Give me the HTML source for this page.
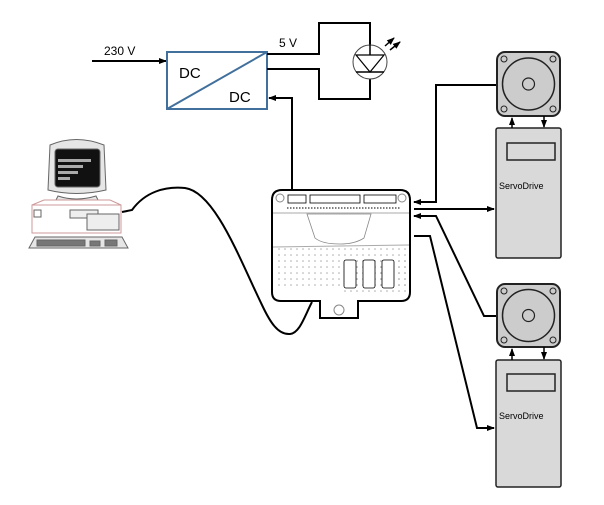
<!DOCTYPE html>
<html><head><meta charset="utf-8"><style>
html,body{margin:0;padding:0;background:#fff;width:604px;height:505px;overflow:hidden}
svg{display:block;font-family:"Liberation Sans",sans-serif}
</style></head><body>
<svg width="604" height="505" viewBox="0 0 604 505" xmlns="http://www.w3.org/2000/svg">
<defs>
<marker id="a" markerWidth="8" markerHeight="8" refX="7" refY="4" orient="auto" markerUnits="userSpaceOnUse"><path d="M0,1 L8,4 L0,7 z" fill="#000"/></marker>
<pattern id="dots" width="6" height="6" patternUnits="userSpaceOnUse"><circle cx="3" cy="3" r="0.8" fill="#aaa"/></pattern>
</defs>
<!-- 230V -->
<text x="104" y="55" font-size="12">230 V</text>
<line x1="92" y1="61" x2="166" y2="61" stroke="#000" stroke-width="2" marker-end="url(#a)"/>
<!-- DC box -->
<rect x="167" y="52" width="100" height="57" fill="#fff" stroke="#41709c" stroke-width="2"/>
<line x1="167" y1="109" x2="267" y2="52" stroke="#41709c" stroke-width="2"/>
<text x="179" y="78" font-size="15">DC</text>
<text x="229" y="102" font-size="15">DC</text>
<text x="279" y="47" font-size="12">5 V</text>
<!-- LED circuit -->
<polyline points="267,54 319,54 319,23 370,23 370,45" fill="none" stroke="#000" stroke-width="2"/>
<polyline points="267,69 319,69 319,99 370,99 370,72" fill="none" stroke="#000" stroke-width="2"/>
<circle cx="370" cy="62" r="17" fill="#fff" stroke="#444" stroke-width="1"/>
<path d="M356,55 L384,55 L370,72 z" fill="#fff" stroke="#000" stroke-width="1.2"/>
<line x1="356" y1="72" x2="384" y2="72" stroke="#000" stroke-width="1.5"/>
<line x1="370" y1="45" x2="370" y2="55" stroke="#000" stroke-width="1.5"/>
<line x1="385" y1="46" x2="394" y2="38" stroke="#000" stroke-width="1.5" marker-end="url(#a)"/>
<line x1="390" y1="50" x2="400" y2="42" stroke="#000" stroke-width="1.5" marker-end="url(#a)"/>
<!-- controller to DC -->
<polyline points="292,190 292,98 269,98" fill="none" stroke="#000" stroke-width="2" marker-end="url(#a)"/>
<!-- PC cable -->
<path d="M122,212 L132,210 C145,192 165,186 185,188 C215,192 240,260 262,305 C270,322 278,335 290,334 C300,333 305,315 312,302" fill="none" stroke="#000" stroke-width="2"/>
<!-- PC -->
<g stroke="#666" stroke-width="1">
<path d="M50,145 Q76,134 104,145 L106,190 Q76,197 48,190 z" fill="#e6e6e6"/>
<rect x="55" y="149" width="45" height="38" rx="3" fill="#111"/>
<rect x="58" y="159" width="33" height="3" fill="#aaa" stroke="none"/>
<rect x="58" y="165" width="25" height="3" fill="#aaa" stroke="none"/>
<rect x="58" y="171" width="20" height="3" fill="#aaa" stroke="none"/>
<rect x="58" y="177" width="12" height="3" fill="#aaa" stroke="none"/>
<path d="M58,196 Q76,202 96,196 L100,204 L54,204 z" fill="#e6e6e6"/>
<path d="M32,205 L44,200 L110,200 L121,205 z" fill="#fff" stroke="#c99"/>
<rect x="32" y="205" width="89" height="28" fill="#fff" stroke="#c99"/>
<rect x="34" y="210" width="7" height="7" fill="#fff"/>
<rect x="70" y="210" width="28" height="8" fill="#eee"/>
<rect x="87" y="214" width="32" height="16" fill="#eee"/>
<path d="M29,248 L35,237 L122,237 L128,248 z" fill="#e6e6e6"/>
<rect x="37" y="240" width="48" height="6" fill="#777"/>
<rect x="90" y="241" width="10" height="5" fill="#777"/>
<rect x="105" y="240" width="12" height="6" fill="#777"/>
</g>
<!-- Controller -->
<g stroke="#000">
<path d="M282,190 L400,190 Q410,190 410,200 L410,292 Q410,301 401,301 L358,301 L358,318 L320,318 L320,301 L281,301 Q272,301 272,292 L272,200 Q272,190 282,190 z" fill="#fff" stroke-width="2"/>
<rect x="274" y="248" width="134" height="40" fill="url(#dots)" stroke="none"/>
<rect x="340" y="256" width="66" height="38" fill="url(#dots)" stroke="none"/>
<line x1="273" y1="213" x2="409" y2="213" stroke="#aaa" stroke-width="1"/>
<line x1="273" y1="247" x2="409" y2="245" stroke="#aaa" stroke-width="1"/>
<rect x="288" y="195" width="18" height="8" fill="#fff" stroke-width="0.8"/>
<rect x="310" y="195" width="50" height="8" fill="#fff" stroke-width="0.8"/>
<rect x="364" y="195" width="32" height="8" fill="#fff" stroke-width="0.8"/>
<circle cx="280" cy="198" r="4" fill="#fff" stroke="#888"/>
<circle cx="402" cy="198" r="4" fill="#fff" stroke="#888"/>
<line x1="287" y1="208" x2="400" y2="208" stroke="#555" stroke-width="1.5" stroke-dasharray="1.5 1.5"/>
<path d="M307,214 L371,214 L364,238 Q355,244 340,244 Q322,244 315,238 z" fill="#fff" stroke="#888" stroke-width="0.8"/>
<rect x="344" y="260" width="12" height="28" rx="2" fill="#fff" stroke-width="0.8"/>
<rect x="363" y="260" width="12" height="28" rx="2" fill="#fff" stroke-width="0.8"/>
<rect x="382" y="260" width="12" height="28" rx="2" fill="#fff" stroke-width="0.8"/>
<circle cx="339" cy="310" r="5" fill="#fff" stroke="#888"/>
</g>
<!-- Controller to servos -->
<polyline points="497,85 436,85 436,202 414,202" fill="none" stroke="#000" stroke-width="2" marker-end="url(#a)"/>
<line x1="414" y1="209" x2="494" y2="209" stroke="#000" stroke-width="2" marker-end="url(#a)"/>
<polyline points="497,316 484,316 436,216 414,216" fill="none" stroke="#000" stroke-width="2" marker-end="url(#a)"/>
<polyline points="414,236 430,236 477,428 494,428" fill="none" stroke="#000" stroke-width="2" marker-end="url(#a)"/>
<!-- Servo 1 -->
<g stroke="#222">
<rect x="497" y="52" width="63" height="64" rx="8" fill="#ccc" stroke-width="2"/>
<circle cx="528.5" cy="84" r="26" fill="#ccc" stroke-width="1.5"/>
<circle cx="528.5" cy="84" r="6" fill="#ccc" stroke-width="1.2"/>
<circle cx="504" cy="59" r="3" fill="#ccc"/><circle cx="553" cy="59" r="3" fill="#ccc"/>
<circle cx="504" cy="109" r="3" fill="#ccc"/><circle cx="553" cy="109" r="3" fill="#ccc"/>
<rect x="496" y="128" width="65" height="130" rx="2" fill="#d9d9d9" stroke-width="1.5"/>
<rect x="507" y="143" width="48" height="17" fill="#d9d9d9" stroke-width="1.5"/>
</g>
<line x1="512" y1="128" x2="512" y2="118" stroke="#000" stroke-width="1.5" marker-end="url(#a)"/>
<line x1="544" y1="116" x2="544" y2="127" stroke="#000" stroke-width="1.5" marker-end="url(#a)"/>
<text x="499" y="189" font-size="9">ServoDrive</text>
<!-- Servo 2 -->
<g stroke="#222">
<rect x="497" y="284" width="63" height="63" rx="8" fill="#ccc" stroke-width="2"/>
<circle cx="528.5" cy="315.5" r="26" fill="#ccc" stroke-width="1.5"/>
<circle cx="528.5" cy="315.5" r="6" fill="#ccc" stroke-width="1.2"/>
<circle cx="504" cy="291" r="3" fill="#ccc"/><circle cx="553" cy="291" r="3" fill="#ccc"/>
<circle cx="504" cy="340" r="3" fill="#ccc"/><circle cx="553" cy="340" r="3" fill="#ccc"/>
<rect x="496" y="360" width="65" height="127" rx="2" fill="#d9d9d9" stroke-width="1.5"/>
<rect x="507" y="374" width="48" height="17" fill="#d9d9d9" stroke-width="1.5"/>
</g>
<line x1="512" y1="360" x2="512" y2="349" stroke="#000" stroke-width="1.5" marker-end="url(#a)"/>
<line x1="544" y1="347" x2="544" y2="359" stroke="#000" stroke-width="1.5" marker-end="url(#a)"/>
<text x="499" y="419" font-size="9">ServoDrive</text>
</svg>
</body></html>
